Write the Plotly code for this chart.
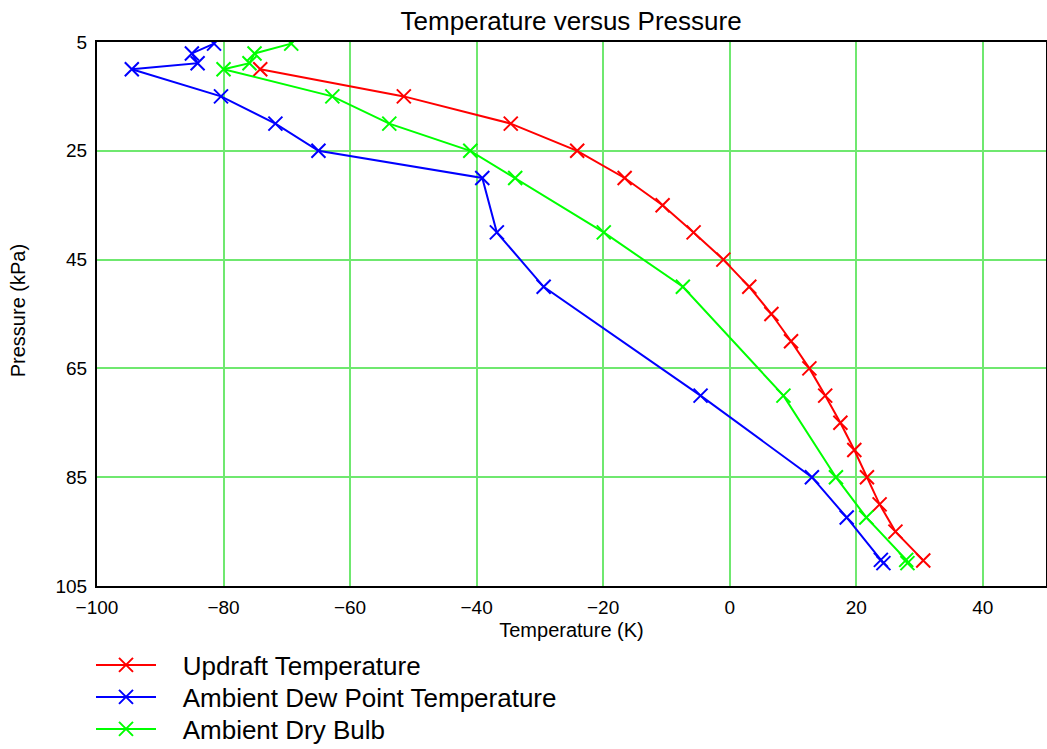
import plotly.graph_objects as go

# Updraft temperature
updraft_p = [10, 15, 20, 25, 30, 35, 40, 45, 50, 55, 60, 65, 70, 75, 80, 85, 90, 95, 100.3]
updraft_t = [-74.2, -51.5, -34.6, -24.1, -16.6, -10.6, -5.7, -1.0, 3.1, 6.6, 9.7, 12.6,
             15.1, 17.5, 19.7, 21.7, 23.7, 26.2, 30.6]

# Ambient dew point
dew_p = [100.8, 100.2, 92.4, 85, 70, 50, 40, 30, 25, 20, 15, 10, 8.9, 7.1, 5.3]
dew_t = [24.3, 23.9, 18.5, 13.0, -4.6, -29.4, -36.8, -39.1, -65.0, -71.8, -80.4, -94.5,
         -84.1, -85.0, -81.5]

# Ambient dry bulb
dry_p = [100.8, 100.2, 92.4, 85, 70, 50, 40, 30, 25, 20, 15, 10, 8.9, 7.1, 5.3]
dry_t = [28.1, 27.9, 21.6, 16.8, 8.5, -7.4, -19.9, -33.9, -41.0, -53.8, -62.8, -80.0,
         -75.9, -75.1, -69.3]

x_ticks = [-100, -80, -60, -40, -20, 0, 20, 40]
y_ticks = [5, 25, 45, 65, 85, 105]

FONT = "Arial, Liberation Sans, sans-serif"
W, H = 1047, 749
ML, MR, MT, MB = 97, 1, 42, 163

series = [
    ("Updraft Temperature", updraft_t, updraft_p, "#ff0000", "legend", 665),
    ("Ambient Dew Point Temperature", dew_t, dew_p, "#0000ff", "legend2", 697),
    ("Ambient Dry Bulb", dry_t, dry_p, "#00ff00", "legend3", 729),
]

fig = go.Figure()
legends = {}
for name, t, p, c, lg, ypx in series:
    fig.add_trace(go.Scatter(
        x=t, y=p, name="\u00a0\u00a0\u00a0" + name, mode="lines+markers",
        line=dict(color=c, width=2),
        marker=dict(symbol="x-thin", size=14, color=c, line=dict(color=c, width=2)),
        legend=lg,
    ))
    legends[lg] = dict(x=91 / W, xanchor="left", xref="container",
                       y=1 - ypx / H, yanchor="middle", yref="container",
                       font=dict(size=26, family=FONT, color="black"),
                       bgcolor="rgba(0,0,0,0)", itemwidth=60)

plot_w = W - ML - MR
grid_c = "#6fe86f"
fig.update_layout(
    width=W, height=H,
    margin=dict(l=ML, r=MR, t=MT, b=MB, autoexpand=False),
    plot_bgcolor="white", paper_bgcolor="white",
    font=dict(family=FONT, color="black", size=19),
    title=dict(text="Temperature versus Pressure", x=0.5455, xanchor="center",
               y=1 - 21 / H, yanchor="middle", yref="container",
               font=dict(size=26, family=FONT, color="black")),
    showlegend=True,
    **legends,
    xaxis=dict(range=[-100, 50], tickvals=x_ticks,
               ticktext=[str(v) if v >= 0 else "\u2212" + str(-v) for v in x_ticks],
               showgrid=True, gridcolor=grid_c, gridwidth=1.5, zeroline=False,
               showline=True, linecolor="black", linewidth=2, mirror=True,
               ticks="outside", ticklen=3, tickcolor="rgba(0,0,0,0)",
               tickfont=dict(size=19), automargin=False,
               title=dict(text="Temperature (K)", standoff=6, font=dict(size=20))),
    yaxis=dict(range=[105, 5], tickvals=y_ticks,
               showgrid=True, gridcolor=grid_c, gridwidth=1.5, zeroline=False,
               showline=True, linecolor="black", linewidth=2, mirror=True,
               ticks="outside", ticklen=4, tickcolor="rgba(0,0,0,0)",
               tickfont=dict(size=19), automargin=False),
    annotations=[dict(text="Pressure (kPa)", textangle=-90, showarrow=False,
                      xref="paper", yref="paper", x=(18 - ML) / plot_w, y=0.505,
                      xanchor="center", yanchor="middle",
                      font=dict(size=20, family=FONT, color="black"))],
)

fig.write_html("out.html")
